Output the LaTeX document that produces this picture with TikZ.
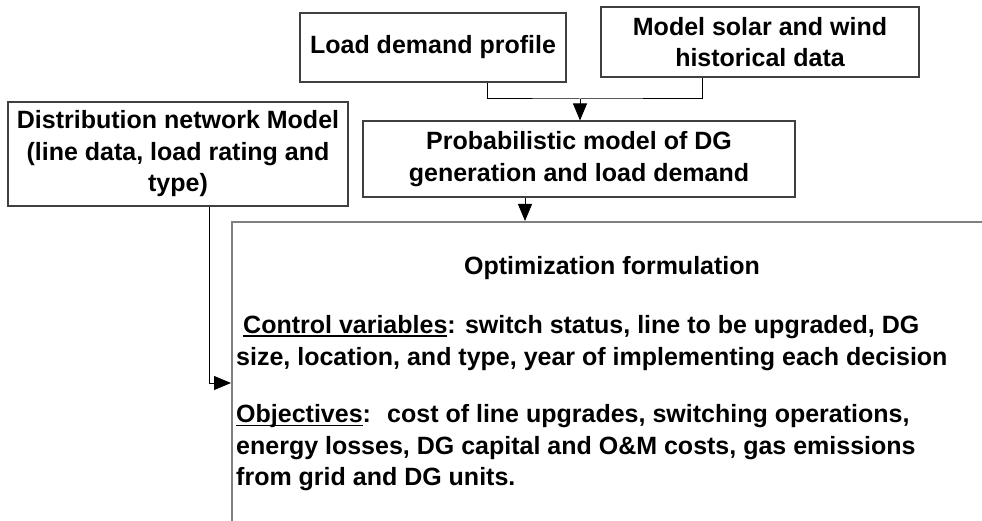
\documentclass[tikz,border=0pt]{standalone}
\usepackage{fontspec}
\setmainfont{Liberation Sans}
\usetikzlibrary{arrows.meta,calc}
\newcommand{\flowfont}{\fontsize{25}{31.5}\selectfont\bfseries}
% thick underline sitting a little below the baseline
\newcommand{\undl}[1]{\setbox0\hbox{#1}\rlap{\rule[-3.5pt]{\wd0}{1.8pt}}\box0}
\begin{document}
\begin{tikzpicture}[x=1pt,y=-1pt,
  box/.style={draw=black!75, line width=1.1pt, align=center, inner sep=0pt, font=\flowfont},
  bigbox/.style={draw=black!50, line width=2pt, inner sep=0pt},
  txt/.style={inner sep=0pt, font=\flowfont},
  conn/.style={draw=black, line width=1pt},
  tip/.style={-{Triangle[length=17pt,width=14pt]}}]
  \clip (0,0) rectangle (982,521);
  \fill[white] (0,0) rectangle (982,521);

  % input boxes
  \node[box, minimum width=266pt, minimum height=69pt] (load) at (433,47.5) {Load demand profile};
  \node[box, minimum width=318pt, minimum height=70pt] (solar) at (760,42) {Model solar and wind\\historical data};
  \node[box, minimum width=432pt, minimum height=76pt] (prob) at (579,159) {Probabilistic model of DG\\generation and load demand};
  \node[box, minimum width=340pt, minimum height=104pt] (dist) at (178,154) {Distribution network Model\\(line data, load rating and\\type)};

  % optimization block (runs past the right and bottom edges)
  \node[bigbox, anchor=north west, minimum width=762pt, minimum height=340pt] (opt) at (231,221) {};
  \node[txt] (title) at (612,268) {Optimization formulation};
  \node[txt, anchor=west, align=left] (ctrl) at (236,343)
    {\hspace*{7pt}\undl{Control variables}: switch status, line to be upgraded, DG\\
     size, location, and type, year of implementing each decision};
  \node[txt, anchor=west, align=left] (obj) at (236,448)
    {\undl{Objectives}:~ cost of line upgrades, switching operations,\\
     energy losses, DG capital and O\&M costs, gas emissions\\
     from grid and DG units.};

  % connectors
  \coordinate (j) at (580,99);
  \draw[conn] ([xshift=54pt]load.south) |- (j) -| ([xshift=-58pt]solar.south);
  \draw[conn, tip] (j) -- (j |- prob.north);
  \draw[conn, tip] ([xshift=-54pt]prob.south) -- ([xshift=-54pt]prob.south |- opt.north);
  \coordinate (d) at (231,383);
  \draw[conn, tip] ([xshift=31pt]dist.south) |- (d);
\end{tikzpicture}
\end{document}
